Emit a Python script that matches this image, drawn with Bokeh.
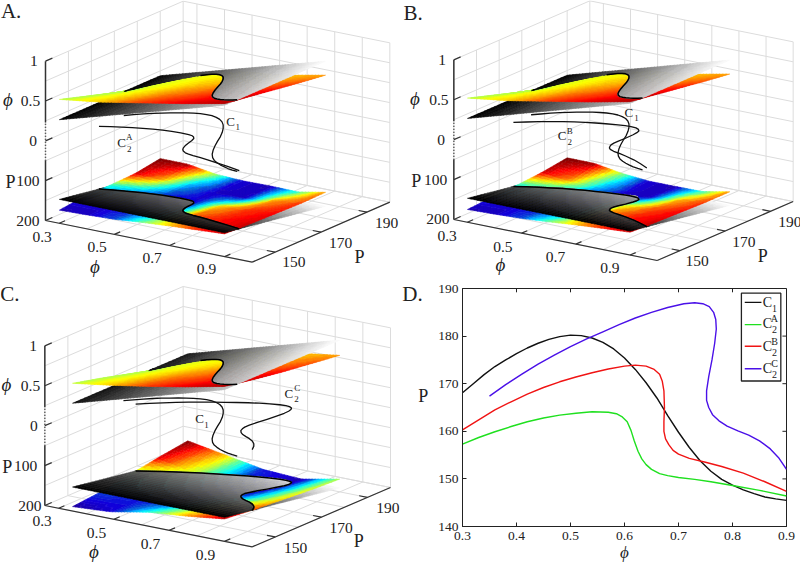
import numpy as np
from bokeh.core.properties import value
from bokeh.embed import file_html
from bokeh.layouts import column, row
from bokeh.models import FixedTicker, Range1d
from bokeh.plotting import figure
from bokeh.resources import INLINE

# ---------- curves (phi, P) ----------
C1_phi = [.30,.32,.34,.36,.38,.40,.42,.44,.46,.48,.50,.52,.54,.56,.58,.60,.62,.64,.66,.68,.70,.72,.74,.76,.78,.80,.82,.84,.86,.88,.90]
C1_P = [168.1,170.0,171.9,173.6,175.0,176.3,177.5,178.5,179.3,179.9,180.2,180.1,179.6,178.7,177.3,175.4,173,170.2,167,163.3,159.8,156.6,153.8,151.6,149.9,148.7,147.7,146.9,146.2,145.8,145.5]
C2A_phi = [.30,.33,.36,.39,.42,.45,.48,.51,.54,.57,.585,.595,.605,.612,.618,.625,.632,.64,.65,.665,.68,.70,.73,.76,.80,.85,.90]
C2A_P = [157.3,158.7,159.9,161,162,162.8,163.4,163.8,164.1,164,163.7,163.1,162,160.2,158,155.8,154.2,153,152,151.1,150.7,150.3,149.9,149.4,148.6,147.6,146.4]
C2B_phi = [.30,.33,.36,.39,.42,.45,.48,.51,.54,.57,.60,.62,.64,.655,.665,.67,.673,.674,.673,.673,.676,.682,.69,.70,.72,.75,.78,.82,.86,.90]
C2B_P = [160.3,162.4,164.5,166.2,167.8,169.2,170.4,171.4,172.3,173.1,173.7,173.9,173.7,173,172,170.5,168.5,165,162,160,158.4,157.2,156,155.2,154.3,153.5,152.6,151.2,149.4,147.4]
C2C_phi = [.35,.38,.41,.44,.47,.50,.53,.56,.59,.62,.65,.68,.71,.73,.745,.757,.765,.769,.77,.767,.762,.756,.752,.752,.756,.763,.775,.79,.81,.83,.85,.87,.885,.90]
C2C_P = [167.4,169.8,172,174.1,176,177.8,179.4,180.9,182.4,183.8,185,186,186.8,187,186.8,186.2,185,183.5,181.5,178.5,175,171.5,168.5,166.5,165,163.5,162.2,161.1,160.1,159.2,158,156.3,154.5,152]

# ---------- surface tables ----------
TOP_PHI_AB = [.3,.45,.6,.75,.9]
TOP_P_AB = [140,151,162,173,184]
TOP_F_AB = [[.555,.625,.72,.815,.92],[.455,.58,.68,.76,.87],[.355,.53,.65,.71,.82],[.26,.48,.615,.665,.77],[.17,.42,.56,.62,.725]]
TOP_T = [[.56,.68,.82,.90,.95],[.55,.63,.75,.85,.92],[.55,.60,.68,.80,.87],[.55,.60,.64,.72,.80],[.55,.60,.62,.68,.72]]
TOP_PHI_C = [.35,.4875,.625,.7625,.9]
TOP_P_C = [140,152.5,165,177.5,190]
TOP_F_C = [[.60,.67,.75,.84,.94],[.51,.62,.71,.765,.87],[.41,.56,.66,.72,.81],[.31,.50,.60,.68,.76],[.22,.45,.58,.64,.71]]

BOT_PHI_AB = [.3,.4,.5,.6,.7,.8,.9]
BOT_P_AB = [140,151,162,173,184]
BOT_F_A = [[167,165,162,156,151,147,143],[160,163,165,162,152,150,146],[160,161,164,162,158,153,148],[158,157,160,163,162,158,150],[148,148,159,162,161,162,149]]
BOT_T_A = [[.08,.09,.2,.5,.68,.85,.93],[.15,.12,.15,.3,.78,.86,.92],[.42,.3,.12,.12,.68,.82,.88],[.92,.72,.3,.1,.1,.72,.82],[1.0,.97,.55,.12,.08,.42,.72]]
BOT_F_B = [[168,166,163,158,152,147,143],[164,164,165,163,154,151.5,146],[161,163,165,165,158,154,148],[156,163,170,172,162,157,150],[147,147,158,164,164,163,150]]
BOT_T_B = [[.08,.09,.2,.5,.68,.85,.93],[.15,.12,.15,.25,.78,.86,.92],[.42,.3,.12,.15,.62,.8,.88],[.92,.72,.3,.1,.1,.68,.82],[1.0,.97,.55,.12,.08,.42,.72]]
BOT_F_C = [[189,183,165,156,144],[182,182,172,160,152],[170,180,178,167,158],[158,177,182,177,164],[148,165,182,187,168]]
BOT_T_C = [[.05,.12,.42,.72,.95],[.2,.15,.15,.55,.8],[.5,.35,.15,.2,.68],[.9,.55,.2,.1,.6],[1.0,.68,.15,.08,.55]]

GRAY_TOP = [[0,.75],[0,1]]
GRAY_BOT = [[0,0],[.6,1]]

# ---------- tick values ----------
PHI_GRID = [.3,.4,.5,.6,.7,.8,.9,1.0]
P_GRID = [140,150,160,170,180,190,200]
H_GRID = [0,.5,1,1.5,2,2.5,3,3.5,4]
PHI_TICKS = [.3,.5,.7,.9]
P_TICKS = [150,170,190]
H_TICKS = [0,1,2,3,4]
D_X_TICKS = [.3,.4,.5,.6,.7,.8,.9]
D_Y_TICKS = [140,150,160,170,180,190]

SERIF = value("Liberation Serif")
SPILL = 30  # panel C's drawing area runs on under panel D's left margin, to carry D's letter and P

def jet(t):
    t = float(np.clip(t, 0, 1))
    r = np.clip(min(4*t-1.5, -4*t+4.5), 0, 1)
    g = np.clip(min(4*t-.5, -4*t+3.5), 0, 1)
    b = np.clip(min(4*t+.5, -4*t+2.5), 0, 1)
    if t < .25:           # the reference's blues lean towards indigo
        r = max(r, .16*(1-t/.25))
        b = b*.86
    return "#%02x%02x%02x" % (int(r*255), int(g*255), int(b*255))

def grayc(t):
    v = int(np.clip(t, 0, 1)*255)
    return "#%02x%02x%02x" % (v, v, v)

def bilin(xn, yn, tab, x, y):
    xn = np.asarray(xn, float); yn = np.asarray(yn, float); tab = np.asarray(tab, float)
    x = np.clip(x, xn[0], xn[-1]); y = np.clip(y, yn[0], yn[-1])
    i = np.clip(np.searchsorted(xn, x, side="right")-1, 0, len(xn)-2)
    j = np.clip(np.searchsorted(yn, y, side="right")-1, 0, len(yn)-2)
    u = (x-xn[i])/(xn[i+1]-xn[i]); v = (y-yn[j])/(yn[j+1]-yn[j])
    return (tab[j, i]*(1-u)*(1-v)+tab[j, i+1]*u*(1-v)+tab[j+1, i]*(1-u)*v+tab[j+1, i+1]*u*v)

def inpoly(x, y, poly):
    x = np.asarray(x); y = np.asarray(y)
    px = np.array([a for a, b in poly]); py = np.array([b for a, b in poly])
    res = np.zeros(x.shape, bool)
    for k in range(len(px)):
        x0, y0, x1, y1 = px[k], py[k], px[k-1], py[k-1]
        c = ((y0 > y) != (y1 > y))
        with np.errstate(divide="ignore", invalid="ignore"):
            xi = x0+(y-y0)*(x1-x0)/(y1-y0 if y1 != y0 else 1e-9)
        res ^= c & (x < xi)
    return res

def below_poly(cx, cy):
    return [(cx[0]-.06, cy[0])]+list(zip(cx, cy))+[(cx[-1]+.06, cy[-1]), (cx[-1]+.06, 120), (cx[0]-.06, 120)]

def split_cells(dom, poly, n1=50, n2=30, sub=5):
    p0, p1, q0, q1 = dom
    pe = np.linspace(p0, p1, n1+1); qe = np.linspace(q0, q1, n2+1)
    A, B = np.meshgrid(pe, qe)
    m = inpoly(A, B, poly)
    inside, outside = [], []
    dp, dq = pe[1]-pe[0], qe[1]-qe[0]
    for j in range(n2):
        for i in range(n1):
            s = int(m[j, i])+int(m[j, i+1])+int(m[j+1, i])+int(m[j+1, i+1])
            c = (pe[i], pe[i+1], qe[j], qe[j+1])
            if s == 4:
                inside.append(c)
            elif s == 0:
                outside.append(c)
            else:
                for a in range(sub):
                    for b in range(sub):
                        cc = (pe[i]+dp*a/sub, pe[i]+dp*(a+1)/sub, qe[j]+dq*b/sub, qe[j]+dq*(b+1)/sub)
                        if inpoly(np.array((cc[0]+cc[1])/2), np.array((cc[2]+cc[3])/2), poly):
                            inside.append(cc)
                        else:
                            outside.append(cc)
    return np.array(inside), np.array(outside)

class Box:
    def __init__(s, x0, y0, xn, yn, xr, yr, h):
        s.x0, s.y0 = x0/3, y0/3
        s.ax, s.ay = (xn-x0)/3/.75, (yn-y0)/3/.75
        s.bx, s.by = (xr-xn)/3/60, (yr-yn)/3/60
        s.h = h/3/4
    def __call__(s, phi, P, w):
        a = np.asarray(phi, float)-.25; b = np.asarray(P, float)-140; w = np.asarray(w, float)
        return s.x0+s.ax*a+s.bx*b, s.y0+s.ay*a+s.by*b-s.h*w

def draw_layer(p, box, cells, hfun, cfun):
    if len(cells) == 0:
        return
    pa, pb, qa, qb = cells.T
    X = []; Y = []
    for ph, q in ((pa, qa), (pb, qa), (pb, qb), (pa, qb)):
        x, y = box(ph, q, hfun(ph, q))
        X.append(x); Y.append(y)
    X = np.array(X).T; Y = np.array(Y).T
    cols = cfun((pa+pb)/2, (qa+qb)/2)
    groups = {}
    for k, c in enumerate(cols):
        groups.setdefault(c, []).append(k)
    xs, ys, fc = [], [], []
    for c, idx in groups.items():
        xs.append([[X[k].round(2).tolist()] for k in idx])
        ys.append([[Y[k].round(2).tolist()] for k in idx])
        fc.append(c)
    p.multi_polygons(xs=xs, ys=ys, fill_color=fc, line_color=fc, line_width=.5)

def txt(p, zx, zy, s, size, align="center", style="normal", color="#222222"):
    p.text([zx/3], [zy/3], text=[s], text_font=SERIF, text_font_size=f"{size}px", text_align=align,
           text_baseline="middle", text_font_style=style, text_color=color)

def panel(box, top_tabs, bot_tabs, c2, labels, width=400):
    p = figure(width=width, height=282, x_range=Range1d(0, width), y_range=Range1d(282, 0),
               x_axis_location=None, y_axis_location=None, toolbar_location=None, tools="",
               output_backend="svg", min_border=0, outline_line_color=None)
    p.grid.visible = False
    gc = "#dcdcdc"
    def seg(a, b, c=gc, w=1, dash="solid"):
        x, y = box([a[0], b[0]], [a[1], b[1]], [a[2], b[2]])
        p.line(x.tolist(), y.tolist(), line_color=c, line_width=w, line_dash=dash)
    for q in P_GRID:
        seg((.25, q, 0), (.25, q, 4)); seg((.25, q, 0), (1, q, 0))
    for f in PHI_GRID:
        seg((f, 200, 0), (f, 200, 4)); seg((f, 140, 0), (f, 200, 0))
    for h in H_GRID:
        seg((.25, 140, h), (.25, 200, h)); seg((.25, 200, h), (1, 200, h))
    ax = "#333333"
    seg((.25, 140, 0), (.25, 140, 1.5), ax, 1.5)
    seg((.25, 140, 1.5), (.25, 140, 2.46), ax, 1.5, "1 2")
    seg((.25, 140, 2.46), (.25, 140, 4), ax, 1.5)
    seg((.25, 140, 0), (1, 140, 0), ax, 1.2)
    seg((1, 140, 0), (1, 200, 0), ax, 1.2)
    for h in H_TICKS:
        seg((.25, 140, h), (.25, 143, h), ax, 1.2)
    for f in PHI_TICKS:
        seg((f, 140, 0), (f, 142.5, 0), ax, 1.2)
    for q in P_TICKS:
        seg((1, q, 0), (.97, q, 0), ax, 1.2)

    curve1 = (C1_phi, C1_P)
    # lower sheet
    bphi, bP, bF, bT = bot_tabs
    near, far = split_cells((bphi[0], .9, 140, bP[-1]), below_poly(*c2))
    Pmax = bP[-1]
    hb_col = lambda a, b: 2-bilin(bphi, bP, bF, a, b)/100
    hb_g = lambda a, b: 2-b/100
    cb_col = lambda a, b: [jet(round(t*63)/63) for t in bilin(bphi, bP, bT, a, b)]
    cb_g = lambda a, b: [grayc(round(t*47)/47) for t in bilin([.3, .9], [140, Pmax], GRAY_BOT, a, b)]
    draw_layer(p, box, near, hb_col, cb_col)
    draw_layer(p, box, far, hb_g, cb_g)
    draw_layer(p, box, far, hb_col, cb_col)
    draw_layer(p, box, near, hb_g, cb_g)
    cx, cy = np.array(c2[0]), np.array(c2[1])
    x, y = box(cx, cy, 2-cy/100)
    p.line(x.tolist(), y.tolist(), line_color="black", line_width=1.5, line_join="round")

    # floating curves
    for a, b in (curve1, c2):
        a = np.array(a); b = np.array(b)
        x, y = box(a, b, 2+0*a)
        p.line(x.tolist(), y.tolist(), line_color="#111111", line_width=1.3, line_join="round")

    # upper sheet
    tphi, tP, tF = top_tabs
    near, far = split_cells((tphi[0], .9, 140, tP[-1]), below_poly(*curve1))
    ht_col = lambda a, b: 2+2*bilin(tphi, tP, tF, a, b)
    ht_g = lambda a, b: 2+2*a
    ct_col = lambda a, b: [jet(round(t*63)/63) for t in bilin(tphi, tP, TOP_T, a, b)]
    ct_g = lambda a, b: [grayc(round(t*47)/47) for t in bilin([.3, .9], [140, tP[-1]], GRAY_TOP, a, b)]
    draw_layer(p, box, far, ht_col, ct_col)
    draw_layer(p, box, near, ht_g, ct_g)
    draw_layer(p, box, near, ht_col, ct_col)
    draw_layer(p, box, far, ht_g, ct_g)
    cx, cy = np.array(C1_phi), np.array(C1_P)
    sel = np.where(cx >= .48)[0]
    x, y = box(cx[sel], cy[sel], 2+2*cx[sel])
    p.line(x.tolist(), y.tolist(), line_color="black", line_width=1.5, line_join="round")

    for l in labels:
        txt(p, *l)
    return p

def labels_3d(letter, zt, h, phis, ps, c1, c2lab, sup):
    out = [(letter[1], letter[2], letter[0], 21)]
    for (xx, yy, s) in zip(zt, h, ["1", "0.5", "0", "100", "200"]):
        out.append((xx, yy, s, 15.5))
    for (xy, s) in zip(phis, ["0.3", "0.5", "0.7", "0.9"]):
        out.append((xy[0], xy[1], s, 15.5))
    for (xy, s) in zip(ps, ["150", "170", "190"]):
        out.append((xy[0], xy[1], s, 15.5))
    out.append((c1[0], c1[1], "C", 13)); out.append((c1[2], c1[3], "1", 9))
    out.append((c2lab[0], c2lab[1], "C", 13)); out.append((c2lab[2], c2lab[3], sup, 9)); out.append((c2lab[4], c2lab[5], "2", 9))
    return out

box_a = Box(135, 660, 755, 785, 1168, 605, 478)
box_b = Box(160, 657, 770, 780, 1178, 603, 479)
box_c = Box(133, 669, 755, 793, 1170, 615, 479)

lab_a = labels_3d(("A.", 32, 32), (100, 90, 98, 82, 82), (182, 302, 422, 541, 660),
                  [(125, 710), (290, 740), (455, 772), (618, 805)], [(880, 785), (1020, 727), (1158, 667)],
                  (690, 362, 712, 380), (363, 425, 386, 410, 386, 445), "A")
lab_a += [(22, 298, "ϕ", 19, "center", "italic"), (30, 545, "P", 18), (283, 797, "ϕ", 19, "center", "italic"), (1077, 768, "P", 18)]
lab_b = labels_3d(("B.", 38, 38), (125, 115, 122, 105, 112), (178, 298, 418, 537, 655),
                  [(140, 705), (307, 738), (465, 770), (628, 803)], [(890, 782), (1030, 725), (1168, 665)],
                  (685, 335, 708, 352), (485, 405, 508, 390, 508, 425), "B")
lab_b += [(43, 295, "ϕ", 19, "center", "italic"), (47, 540, "P", 18), (300, 793, "ϕ", 19, "center", "italic"), (1087, 765, "P", 18)]
lab_c = labels_3d(("C.", 28, 35), (98, 90, 100, 75, 88), (190, 310, 430, 550, 670),
                  [(125, 715), (288, 750), (450, 785), (615, 818)], [(885, 795), (1022, 735), (1162, 675)],
                  (597, 408, 618, 428), (865, 332, 890, 315, 888, 350), "C")
lab_c += [(18, 305, "ϕ", 19, "center", "italic"), (20, 552, "P", 18), (280, 808, "ϕ", 19, "center", "italic"), (1075, 775, "P", 18)]
lab_c += [(1200+36, 35, "D.", 21), (1200+68, 340, "P", 18)]

top_ab = (TOP_PHI_AB, TOP_P_AB, TOP_F_AB)
top_c = (TOP_PHI_C, TOP_P_C, TOP_F_C)
pa = panel(box_a, top_ab, (BOT_PHI_AB, BOT_P_AB, BOT_F_A, BOT_T_A), (C2A_phi, C2A_P), lab_a)
pb = panel(box_b, top_ab, (BOT_PHI_AB, BOT_P_AB, BOT_F_B, BOT_T_B), (C2B_phi, C2B_P), lab_b)
pc = panel(box_c, top_c, (TOP_PHI_C, TOP_P_C, BOT_F_C, BOT_T_C), (C2C_phi, C2C_P), lab_c, width=400+SPILL)

# ---------- panel D ----------
pd = figure(width=400-SPILL, height=282, x_range=Range1d(.3, .9), y_range=Range1d(140, 190),
            toolbar_location=None, tools="", output_backend="svg",
            min_border_left=62-SPILL, min_border_right=14, min_border_top=6, min_border_bottom=37,
            outline_line_color="#222222")
pd.grid.visible = False
for a, ticks in ((pd.xaxis[0], D_X_TICKS), (pd.yaxis[0], D_Y_TICKS)):
    a.ticker = FixedTicker(ticks=ticks)
    a.major_tick_in = 4; a.major_tick_out = 0; a.minor_tick_line_color = None
    a.major_label_text_font = "Liberation Serif"; a.major_label_text_font_size = "13.5px"
    a.major_label_text_color = "#222222"; a.axis_line_color = "#222222"; a.major_tick_line_color = "#222222"
    a.major_label_standoff = 4
pd.xaxis[0].major_label_standoff = 5
pd.xaxis[0].axis_label = "ϕ"
pd.xaxis[0].axis_label_text_font = "Liberation Serif"
pd.xaxis[0].axis_label_text_font_style = "italic"
pd.xaxis[0].axis_label_text_font_size = "17px"
pd.xaxis[0].axis_label_text_color = "#222222"
pd.xaxis[0].axis_label_standoff = 0
pd.segment(x0=[.9]*len(D_Y_TICKS), y0=D_Y_TICKS, x1=[.8925]*len(D_Y_TICKS), y1=D_Y_TICKS, line_color="#222222")
pd.segment(x0=D_X_TICKS, y0=[190]*len(D_X_TICKS), x1=D_X_TICKS, y1=[189.2]*len(D_X_TICKS), line_color="#222222")
SER = [(C1_phi, C1_P, "#111111"), (C2A_phi, C2A_P, "#1fe01f"), (C2B_phi, C2B_P, "#f01414"), (C2C_phi, C2C_P, "#4a10e8")]
for a, b, c in SER:
    pd.line(a, b, line_color=c, line_width=1.4, line_join="round")

def dx(z): return .3+(z-187)/970*.6
def dy(z): return 140+(736-z)/718*50
pd.quad(left=[dx(1022)], right=[dx(1140)], top=[dy(32)], bottom=[dy(297)], fill_color="white", line_color="#222222", line_width=1.3)
for (a, b, c), yy in zip(SER, (60, 127, 192, 260)):
    pd.line([dx(1032), dx(1082)], [dy(yy), dy(yy)], line_color=c, line_width=1.4)
LEG = [(60, "1", None), (125, "2", "A"), (192, "2", "B"), (258, "2", "C")]
for yy, sub, sup in LEG:
    pd.text([dx(1100)], [dy(yy)], text=["C"], text_font=SERIF, text_font_size="14px", text_align="center", text_baseline="middle", text_color="#222222")
    pd.text([dx(1121)], [dy(yy+18)], text=[sub], text_font=SERIF, text_font_size="10px", text_align="center", text_baseline="middle", text_color="#222222")
    if sup:
        pd.text([dx(1121)], [dy(yy-15)], text=[sup], text_font=SERIF, text_font_size="10px", text_align="center", text_baseline="middle", text_color="#222222")

page = column(row(pa, pb), row(pc, column(pd)))
open("out.html", "w").write(file_html(page, INLINE))
